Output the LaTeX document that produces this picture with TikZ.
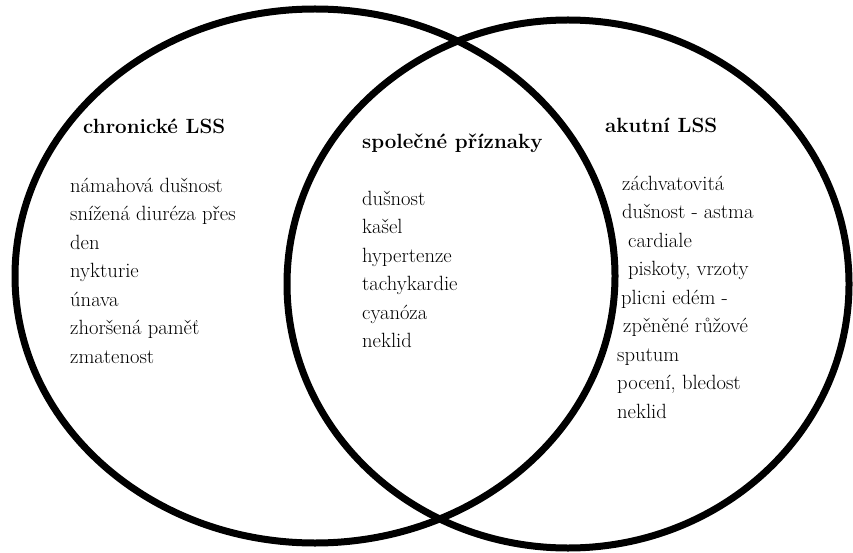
\documentclass[tikz,border=0pt]{standalone}
\usetikzlibrary{shapes.geometric}
\tikzset{
    venn/.style={ellipse, draw, line width=7pt, inner sep=0pt},
    lsstext/.style={anchor=north west, inner sep=0pt, align=left,
                    font=\fontsize{20.6}{28.5}\selectfont},
    lsshead/.style={lsstext, font=\fontsize{20.6}{28.5}\selectfont\bfseries},
}
\begin{document}
\begin{tikzpicture}[x=1pt, y=-1pt]
\useasboundingbox (0,0) rectangle (853,553);
% --- the two sets ---
\node[venn, minimum width=600pt, minimum height=534pt] (chron) at (315,276) {};
\node[venn, minimum width=562pt, minimum height=528pt] (akut) at (568,284) {};

% --- LEFT: chronic ---
\node[lsshead] (chron-h) at (83,118.7) {chronické LSS};
\node[lsstext] (chron-l) at (70,177.7)
    {námahová dušnost\\snížená diuréza přes\\den\\nykturie\\únava\\zhoršená paměť\\zmatenost};

% --- MIDDLE: common ---
\node[lsshead] (spol-h) at (362,133.7) {společné příznaky};
\node[lsstext] (spol-l) at (362,190.7)
    {dušnost\\kašel\\hypertenze\\tachykardie\\cyanóza\\neklid};

% --- RIGHT: acute ---
\node[lsshead] (akut-h) at (605,117.7) {akutní LSS};
\node[lsstext] (akut-l) at (617,175.7)
    {\hspace{5pt}záchvatovitá\\\hspace{5pt}dušnost - astma\\\hspace{11pt}cardiale\\
     \hspace{11pt}piskoty, vrzoty\\\hspace{4pt}plicni edém -\\\hspace{6pt}zpěněné růžové\\
     sputum\\pocení, bledost\\neklid};
\end{tikzpicture}
\end{document}
